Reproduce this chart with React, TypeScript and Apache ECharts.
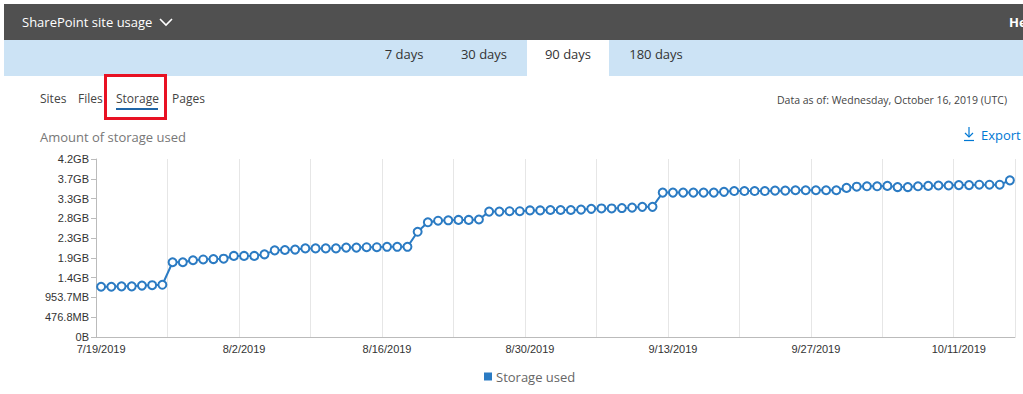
import React, { useEffect, useRef } from "react";
import * as echarts from "echarts";

const categories: string[] = [
  "7/19/2019", "7/20/2019", "7/21/2019", "7/22/2019", "7/23/2019", "7/24/2019", "7/25/2019",
  "7/26/2019", "7/27/2019", "7/28/2019", "7/29/2019", "7/30/2019", "7/31/2019",
  "8/1/2019", "8/2/2019", "8/3/2019", "8/4/2019", "8/5/2019", "8/6/2019", "8/7/2019", "8/8/2019",
  "8/9/2019", "8/10/2019", "8/11/2019", "8/12/2019", "8/13/2019", "8/14/2019", "8/15/2019",
  "8/16/2019", "8/17/2019", "8/18/2019", "8/19/2019", "8/20/2019", "8/21/2019", "8/22/2019",
  "8/23/2019", "8/24/2019", "8/25/2019", "8/26/2019", "8/27/2019", "8/28/2019", "8/29/2019",
  "8/30/2019", "8/31/2019",
  "9/1/2019", "9/2/2019", "9/3/2019", "9/4/2019", "9/5/2019", "9/6/2019", "9/7/2019", "9/8/2019",
  "9/9/2019", "9/10/2019", "9/11/2019", "9/12/2019", "9/13/2019", "9/14/2019", "9/15/2019",
  "9/16/2019", "9/17/2019", "9/18/2019", "9/19/2019", "9/20/2019", "9/21/2019", "9/22/2019",
  "9/23/2019", "9/24/2019", "9/25/2019", "9/26/2019", "9/27/2019", "9/28/2019", "9/29/2019",
  "9/30/2019",
  "10/1/2019", "10/2/2019", "10/3/2019", "10/4/2019", "10/5/2019", "10/6/2019", "10/7/2019",
  "10/8/2019", "10/9/2019", "10/10/2019", "10/11/2019", "10/12/2019", "10/13/2019", "10/14/2019",
  "10/15/2019", "10/16/2019",
];

// storage used, in units of 1e9 bytes
const storageUsed: number[] = [
  1.27, 1.27, 1.28, 1.28, 1.30, 1.31, 1.32,
  1.89, 1.89, 1.94, 1.96, 1.97, 1.98, 2.05,
  2.05, 2.05, 2.09, 2.19, 2.20, 2.21, 2.24,
  2.24, 2.24, 2.24, 2.26, 2.26, 2.27, 2.27,
  2.28, 2.28, 2.28, 2.66, 2.90, 2.94, 2.95,
  2.96, 2.96, 2.97, 3.17, 3.17, 3.18, 3.18,
  3.20, 3.20, 3.21, 3.21, 3.21, 3.22, 3.24,
  3.25, 3.25, 3.26, 3.27, 3.29, 3.29, 3.65,
  3.65, 3.65, 3.65, 3.65, 3.65, 3.67, 3.69,
  3.69, 3.69, 3.69, 3.70, 3.70, 3.71, 3.71,
  3.71, 3.71, 3.71, 3.77, 3.80, 3.81, 3.81,
  3.82, 3.79, 3.79, 3.81, 3.82, 3.83, 3.83,
  3.84, 3.84, 3.85, 3.85, 3.85, 3.96,
];

const yTickLabels: string[] = [
  "0B", "476.8MB", "953.7MB", "1.4GB", "1.9GB", "2.3GB", "2.8GB", "3.3GB", "3.7GB", "4.2GB",
];

const periodTabs: string[] = ["7 days", "30 days", "90 days", "180 days"];
const reportTabs: string[] = ["Sites", "Files", "Storage", "Pages"];

const UI_FONT = "'Open Sans', 'Noto Sans', sans-serif";
const AXIS_FONT = "'Liberation Sans', Arial, sans-serif";
const LINE_COLOR = "#2b7bc3";

function Chart() {
  const ref = useRef<HTMLDivElement>(null);
  useEffect(() => {
    if (!ref.current) return;
    const chart = echarts.init(ref.current, undefined, { renderer: "svg" });
    chart.setOption({
      animation: false,
      title: {
        text: "Amount of storage used",
        left: 35,
        top: 5,
        textStyle: { fontFamily: UI_FONT, fontSize: 13, fontWeight: "normal", color: "#777" },
      },
      legend: {
        data: [{ name: "Storage used", itemStyle: { color: LINE_COLOR, borderWidth: 0 } }],
        left: 479,
        top: 245,
        icon: "rect",
        itemWidth: 8,
        itemHeight: 8,
        itemGap: 6,
        textStyle: { fontFamily: UI_FONT, fontSize: 13, color: "#666", padding: [0, 0, 0, -1] },
      },
      grid: { left: 96, right: 8, top: 39, bottom: 57 },
      xAxis: {
        type: "category",
        data: categories,
        boundaryGap: true,
        axisLine: { lineStyle: { color: "#bbb" } },
        axisTick: { interval: 13, length: 5, lineStyle: { color: "#bbb" } },
        axisLabel: {
          interval: 13,
          fontFamily: AXIS_FONT,
          fontSize: 11,
          color: "#333",
          margin: 6,
        },
        splitLine: { show: true, interval: 6, lineStyle: { color: "#e6e6e6" } },
      },
      yAxis: {
        type: "value",
        min: 0,
        max: 4.5,
        interval: 0.5,
        axisLine: { show: true, lineStyle: { color: "#bbb" } },
        axisTick: { show: true, length: 5, lineStyle: { color: "#bbb" } },
        splitLine: { show: false },
        axisLabel: {
          fontFamily: AXIS_FONT,
          fontSize: 11,
          color: "#333",
          margin: 7,
          formatter: (v: number) => yTickLabels[Math.round(v / 0.5)] ?? "",
        },
      },
      series: [
        {
          name: "Storage used",
          type: "line",
          data: storageUsed,
          color: LINE_COLOR,
          symbol: "circle",
          symbolSize: 8,
          showAllSymbol: true,
          lineStyle: { width: 2, color: LINE_COLOR },
          itemStyle: { color: "#fff", borderColor: LINE_COLOR, borderWidth: 2 },
        },
      ],
    });
    return () => chart.dispose();
  }, []);
  return (
    <div
      ref={ref}
      style={{ position: "absolute", left: 0, top: 120, width: 1023, height: 274 }}
    />
  );
}

export default function App() {
  const tabCenters = [404, 484, 568, 656];
  const navLefts = [40, 78, 116, 172];
  return (
    <div
      style={{
        position: "fixed",
        left: 0,
        top: 0,
        width: 1023,
        height: 394,
        overflow: "hidden",
        background: "#fff",
        fontFamily: UI_FONT,
      }}
    >
      {/* dark header */}
      <div
        style={{
          position: "absolute",
          left: 4,
          top: 4,
          width: 1019,
          height: 36,
          background: "#505050",
          color: "#fff",
          overflow: "hidden",
        }}
      >
        <span style={{ position: "absolute", left: 18, top: 9, fontSize: 13 }}>
          SharePoint site usage
        </span>
        <svg
          style={{ position: "absolute", left: 155, top: 13 }}
          width={14}
          height={10}
          viewBox="0 0 14 10"
        >
          <polyline points="1,2 7,8 13,2" fill="none" stroke="#fff" strokeWidth={1.6} />
        </svg>
        <span
          style={{ position: "absolute", left: 1005, top: 9, fontSize: 13, fontWeight: 700 }}
        >
          Help
        </span>
      </div>
      {/* period tabs */}
      <div
        style={{
          position: "absolute",
          left: 4,
          top: 40,
          width: 1019,
          height: 36,
          background: "#cce3f5",
        }}
      />
      <div
        style={{ position: "absolute", left: 527, top: 40, width: 82, height: 36, background: "#fff" }}
      />
      {periodTabs.map((t, i) => (
        <span
          key={t}
          style={{
            position: "absolute",
            left: tabCenters[i] - 40,
            width: 80,
            textAlign: "center",
            top: 45,
            fontSize: 13,
            color: "#333",
          }}
        >
          {t}
        </span>
      ))}
      {/* report nav */}
      {reportTabs.map((t, i) => (
        <span
          key={t}
          style={{
            position: "absolute",
            left: navLefts[i],
            top: 90,
            fontSize: 12,
            color: "#444",
          }}
        >
          {t}
        </span>
      ))}
      <div
        style={{ position: "absolute", left: 116, top: 108, width: 42, height: 2, background: "#1f65a6" }}
      />
      <div
        style={{
          position: "absolute",
          left: 104,
          top: 74,
          width: 57,
          height: 40,
          border: "3px solid #e81123",
        }}
      />
      <span
        style={{
          position: "absolute",
          right: 16,
          top: 93,
          fontSize: 10.5,
          color: "#444",
        }}
      >
        Data as of: Wednesday, October 16, 2019 (UTC)
      </span>
      <Chart />
      {/* export */}
      <div
        style={{ position: "absolute", left: 963, top: 126, color: "#0078d4", fontSize: 13 }}
      >
        <svg width={12} height={16} viewBox="0 0 12 16" style={{ verticalAlign: "-2px" }}>
          <polyline points="6,1 6,11" stroke="#0078d4" strokeWidth={1.2} fill="none" />
          <polyline points="2,7 6,11 10,7" stroke="#0078d4" strokeWidth={1.2} fill="none" />
          <polyline points="1,14.5 11,14.5" stroke="#0078d4" strokeWidth={1.2} fill="none" />
        </svg>
        <span style={{ marginLeft: 6 }}>Export</span>
      </div>
    </div>
  );
}
